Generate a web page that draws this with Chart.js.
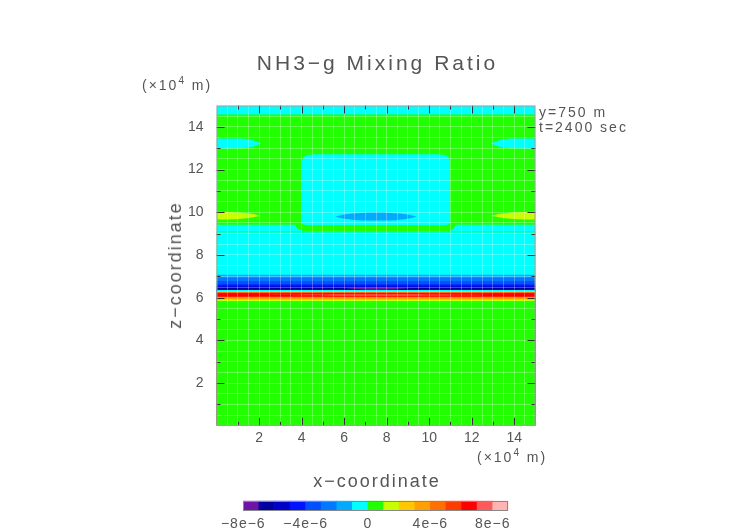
<!DOCTYPE html>
<html>
<head>
<meta charset="utf-8">
<title>NH3-g Mixing Ratio</title>
<script src="https://cdn.jsdelivr.net/npm/chart.js@4.4.1/dist/chart.umd.min.js"></script>
<style>
  html, body { margin:0; padding:0; background:#fff; }
  #wrap { position:relative; width:752px; height:532px; overflow:hidden;
          font-family:"Liberation Sans", Arial, sans-serif; color:#555; }
  canvas { position:absolute; }
  #main { left:0; top:0; }
  #cbar { left:200px; top:488px; }
  .t { position:absolute; white-space:nowrap; line-height:1; }
  .sup { font-size:10px; position:relative; top:-6px; }
</style>
</head>
<body>
<div id="wrap">
  <canvas id="main" width="752" height="532"></canvas>
  <canvas id="cbar" width="352" height="44"></canvas>
  <div class="t" style="left:376px;top:62px;font-size:21px;letter-spacing:3px;padding-left:3px;transform:translate(-50%,-50%)">NH3−g Mixing Ratio</div>
  <div class="t" style="left:142px;top:78px;font-size:14px;letter-spacing:2px">(×10<span class="sup">4</span> m)</div>
  <div class="t" style="left:539px;top:105px;font-size:14px;letter-spacing:2px">y=750 m</div>
  <div class="t" style="left:539px;top:120px;font-size:14px;letter-spacing:2px">t=2400 sec</div>
  <div class="t" style="left:175px;top:266px;font-size:18px;letter-spacing:2px;padding-left:2px;transform:translate(-50%,-50%) rotate(-90deg)">z−coordinate</div>
  <div class="t" style="left:477px;top:450px;font-size:14px;letter-spacing:2px">(×10<span class="sup">4</span> m)</div>
  <div class="t" style="left:376px;top:481px;font-size:18px;letter-spacing:2px;padding-left:2px;transform:translate(-50%,-50%)">x−coordinate</div>
</div>
<script>
// ---------------- data ----------------
// colour levels of the shading (mixing ratio)
const levelEdges = [-8e-6,-7e-6,-6e-6,-5e-6,-4e-6,-3e-6,-2e-6,-1e-6,0,1e-6,2e-6,3e-6,4e-6,5e-6,6e-6,7e-6,8e-6,9e-6];
const levelColors = ['#6e14a8','#0000a0','#0000c8','#0014ff','#0050ff','#0078ff','#00aaff','#00ffff',
                     '#22ff00','#c8ff00','#ffc800','#ffa000','#ff7000','#ff3c00','#ff0000','#ff5a5a','#ffb4b4'];
const colorbarTicks = [-8e-6,-4e-6,0,4e-6,8e-6];

// axis ticks (x10^4 m)
const gridValues = [0.5,1,1.5,2,2.5,3,3.5,4,4.5,5,5.5,6,6.5,7,7.5,8,8.5,9,9.5,10,10.5,11,11.5,12,12.5,13,13.5,14,14.5];
const xTickLabels = [2,4,6,8,10,12,14];
const zTickLabels = [2,4,6,8,10,12,14];

// horizontal layers (top of each layer in x10^4 m, listed top-down) and their mixing ratio
const layerTop   = [15, 14.58, 9.42, 9.10, 9.06, 7.07, 6.94, 6.78, 6.62, 6.52, 6.45, 6.36, 6.31, 6.27, 6.22, 6.06, 6.00, 5.92, 5.84];
const layerValue = [-0.5e-6, 0.5e-6, -0.5e-6, 0.5e-6, -0.5e-6, -1.5e-6, -2.5e-6, -3.5e-6, -4.5e-6, -5.5e-6, -6.5e-6,
                    -0.5e-6, 2.5e-6, 4.5e-6, 6.5e-6, 5.5e-6, 3.5e-6, 1.5e-6, 0.5e-6];

// closed features: upper / lower outlines as [x, z] and their mixing ratio
const stripUpper = [[3.70,9.50],[11.25,9.50]];
const stripLower = [[3.70,9.45],[3.80,9.25],[4.00,9.15],[4.40,9.11],[10.60,9.11],[11.00,9.15],[11.15,9.25],[11.25,9.45]];
const stripValue = 0.5e-6;

const boxUpper = [[4.00,9.50],[4.02,12.40],[4.08,12.58],[4.25,12.68],[4.60,12.72],[10.40,12.72],[10.75,12.68],[10.92,12.58],[10.98,12.40],[11.00,9.50]];
const boxLower = [[4.00,9.50],[4.06,9.44],[4.25,9.39],[10.75,9.39],[10.94,9.44],[11.00,9.50]];
const boxValue = -0.5e-6;

const ovalUpper = [[5.58,9.80],[6.00,9.90],[6.80,9.97],[7.50,9.99],[8.20,9.97],[9.00,9.90],[9.42,9.80]];
const ovalLower = [[5.58,9.80],[6.00,9.70],[6.80,9.62],[7.50,9.61],[8.20,9.62],[9.00,9.70],[9.42,9.80]];
const ovalValue = -1.5e-6;

const yellowLeftUpper  = [[0,10.02],[0.80,10.00],[1.50,9.95],[2.08,9.84]];
const yellowLeftLower  = [[0,9.66],[0.80,9.67],[1.50,9.73],[2.08,9.84]];
const yellowRightUpper = [[12.92,9.84],[13.50,9.95],[14.20,10.00],[15,10.02]];
const yellowRightLower = [[12.92,9.84],[13.50,9.73],[14.20,9.67],[15,9.66]];
const yellowValue = 1.5e-6;

const cyanLeftUpper  = [[0,13.46],[1.00,13.45],[1.60,13.40],[2.13,13.22]];
const cyanLeftLower  = [[0,12.99],[1.00,13.00],[1.60,13.05],[2.13,13.22]];
const cyanRightUpper = [[12.87,13.22],[13.40,13.40],[14.00,13.45],[15,13.46]];
const cyanRightLower = [[12.87,13.22],[13.40,13.05],[14.00,13.00],[15,12.99]];
const cyanValue = -0.5e-6;

const minUpper = [[5.80,6.42],[7.50,6.47],[9.20,6.42]];
const minLower = [[5.80,6.42],[7.50,6.37],[9.20,6.42]];
const minValue = -7.5e-6;

const maxUpper = [[1.50,6.12],[7.50,6.155],[13.50,6.12]];
const maxLower = [[1.50,6.12],[7.50,6.085],[13.50,6.12]];
const maxValue = 7.5e-6;

// ---------------- helpers ----------------
function colorFor(v) {
  for (let i = 0; i < levelColors.length; i++) {
    if (v >= levelEdges[i] && v < levelEdges[i + 1]) return levelColors[i];
  }
  return v < levelEdges[0] ? levelColors[0] : levelColors[levelColors.length - 1];
}
const toPts = arr => arr.map(p => ({x: p[0], y: p[1]}));
const base = {borderWidth: 0, borderColor: 'rgba(0,0,0,0)', pointRadius: 0, pointHoverRadius: 0};

const datasets = [];
layerTop.forEach((top, i) => {
  datasets.push(Object.assign({}, base, {
    data: [{x: 0, y: top}, {x: 15, y: top}],
    fill: 'origin', backgroundColor: colorFor(layerValue[i]), tension: 0
  }));
});
function addFeature(upper, lower, value, tension) {
  datasets.push(Object.assign({}, base, {data: toPts(lower), fill: false, tension: tension}));
  datasets.push(Object.assign({}, base, {data: toPts(upper), fill: '-1', backgroundColor: colorFor(value), tension: tension}));
}
addFeature(stripUpper, stripLower, stripValue, 0.3);
addFeature(boxUpper, boxLower, boxValue, 0);
addFeature(ovalUpper, ovalLower, ovalValue, 0.4);
addFeature(yellowLeftUpper, yellowLeftLower, yellowValue, 0.4);
addFeature(yellowRightUpper, yellowRightLower, yellowValue, 0.4);
addFeature(cyanLeftUpper, cyanLeftLower, cyanValue, 0.4);
addFeature(cyanRightUpper, cyanRightLower, cyanValue, 0.4);
addFeature(minUpper, minLower, minValue, 0.4);
addFeature(maxUpper, maxLower, maxValue, 0.4);
// draw in listed order (later entries on top)
datasets.forEach((d, i) => { d.order = datasets.length - i; });

const FONT = '"Liberation Sans", Arial, sans-serif';
const TXT = '#555';

const frameTicks = {
  id: 'frameTicks',
  afterDraw(chart) {
    const {ctx, chartArea: a, scales: {x, y}} = chart;
    ctx.save();
    ctx.lineWidth = 1;
    ctx.strokeStyle = '#333';
    ctx.beginPath();
    x.ticks.forEach(t => {
      if (!Number.isInteger(t.value)) return;
      const len = t.value % 2 === 0 ? 8 : 4;
      const px = Math.round(x.getPixelForValue(t.value)) + 0.5;
      ctx.moveTo(px, a.bottom); ctx.lineTo(px, a.bottom - len);
      ctx.moveTo(px, a.top); ctx.lineTo(px, a.top + len);
    });
    y.ticks.forEach(t => {
      if (!Number.isInteger(t.value)) return;
      const len = t.value % 2 === 0 ? 8 : 4;
      const py = Math.round(y.getPixelForValue(t.value)) + 0.5;
      ctx.moveTo(a.left, py); ctx.lineTo(a.left + len, py);
      ctx.moveTo(a.right, py); ctx.lineTo(a.right - len, py);
    });
    ctx.stroke();
    ctx.strokeStyle = '#a0a0a0';
    ctx.strokeRect(a.left + 0.5, a.top + 0.5, a.right - a.left - 1, a.bottom - a.top - 1);
    ctx.restore();
  }
};

new Chart(document.getElementById('main'), {
  type: 'line',
  data: {datasets: datasets},
  options: {
    responsive: false, animation: false, events: [],
    layout: {padding: {left: 149.5, right: 216.5, top: 105.5, bottom: 0}},
    plugins: {legend: {display: false}, tooltip: {enabled: false}, title: {display: false}},
    scales: {
      x: {
        type: 'linear', min: 0, max: 15,
        afterBuildTicks: s => { s.ticks = gridValues.map(v => ({value: v})); },
        afterFit: s => { s.height = 106.2; },
        ticks: {autoSkip: false, maxRotation: 0, padding: 4, color: TXT, font: {family: FONT, size: 14},
                callback: v => xTickLabels.includes(v) ? String(v) : ''},
        grid: {color: 'rgba(255,255,255,0.28)', lineWidth: 1, drawTicks: false, z: 1},
        border: {display: false}
      },
      y: {
        type: 'linear', min: 0, max: 15,
        afterBuildTicks: s => { s.ticks = gridValues.map(v => ({value: v})); },
        afterFit: s => { s.width = 67; },
        ticks: {autoSkip: false, padding: 13, color: TXT, font: {family: FONT, size: 14},
                callback: v => zTickLabels.includes(v) ? String(v) : ''},
        grid: {color: 'rgba(255,255,255,0.28)', lineWidth: 1, drawTicks: false, z: 1},
        border: {display: false}
      }
    }
  },
  plugins: [frameTicks]
});

// ---------------- colour bar ----------------
const cbarStyle = {
  id: 'cbarStyle',
  beforeDraw(chart) { chart.ctx.letterSpacing = '1px'; },
  afterDraw(chart) {
    const {ctx, chartArea: a} = chart;
    ctx.save();
    ctx.strokeStyle = '#888';
    ctx.lineWidth = 1;
    ctx.strokeRect(Math.round(a.left) + 0.5, Math.round(a.top) + 0.5, Math.round(a.right - a.left) - 1, Math.round(a.bottom - a.top) - 1);
    ctx.restore();
  }
};
new Chart(document.getElementById('cbar'), {
  type: 'bar',
  data: {
    labels: ['level'],
    datasets: [{
      data: levelColors.map((c, i) => ({x: [levelEdges[i], levelEdges[i + 1]], y: 'level'})),
      backgroundColor: levelColors, borderWidth: 0, barPercentage: 1, categoryPercentage: 1
    }]
  },
  options: {
    indexAxis: 'y', responsive: false, animation: false, events: [],
    layout: {padding: {left: 43.3, right: 43.7, top: 12.7, bottom: 0}},
    plugins: {legend: {display: false}, tooltip: {enabled: false}},
    scales: {
      x: {
        type: 'linear', min: levelEdges[0], max: levelEdges[levelEdges.length - 1],
        afterBuildTicks: s => { s.ticks = colorbarTicks.map(v => ({value: v})); },
        afterFit: s => { s.height = 21; },
        grid: {display: false, drawTicks: false}, border: {display: false},
        ticks: {autoSkip: false, maxRotation: 0, padding: 4.6, color: TXT, font: {family: FONT, size: 14},
                callback: v => v === 0 ? '0' : (v < 0 ? '−' : '') + Math.abs(Math.round(v * 1e6)) + 'e−6'}
      },
      y: {display: false}
    }
  },
  plugins: [cbarStyle]
});
</script>
</body>
</html>
